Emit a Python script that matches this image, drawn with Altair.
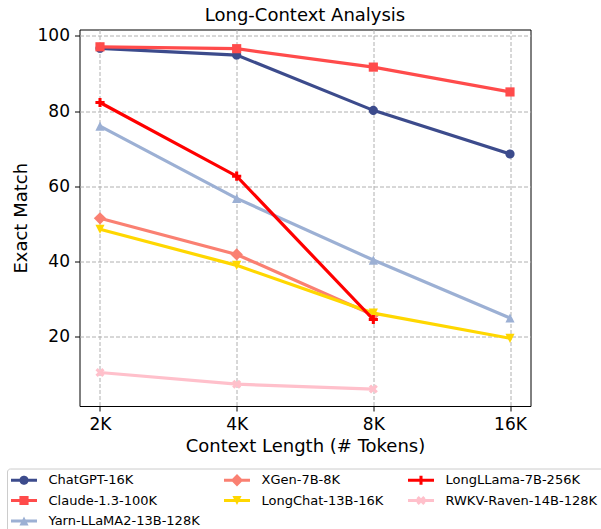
import math
import altair as alt
import pandas as pd

# ---------------- data ----------------
models = ["ChatGPT-16K", "Claude-1.3-100K", "Yarn-LLaMA2-13B-128K", "XGen-7B-8K",
          "LongChat-13B-16K", "LongLLama-7B-256K", "RWKV-Raven-14B-128K"]
contexts = ["2K", "4K", "8K", "16K"]
chatgpt = [96.7, 94.9, 80.2, 68.6]
claude = [97.1, 96.6, 91.7, 85.1]
yarn = [76.0, 56.8, 40.4, 25.0]
xgen = [51.5, 41.9, 25.8]
longchat = [48.6, 39.0, 26.3, 19.6]
longllama = [82.3, 62.7, 24.6]
rwkv = [10.5, 7.4, 6.1]
series = [chatgpt, claude, yarn, xgen, longchat, longllama, rwkv]

colors = ["#3C4B8C", "#FF4B4B", "#9CB0D4", "#FA8072", "#FFD700", "#FF0000", "#FFC0CB"]
markers = ["circle", "square", "tri_up", "diamond", "tri_down", "plus", "xcross"]

rows = []
for m, vals in zip(models, series):
    for c, v in zip(contexts, vals):
        rows.append({"model": m, "ctx": c, "value": v})
df = pd.DataFrame(rows)

FONT = "DejaVu Sans"


# ---------------- marker shapes (custom svg paths, unit = sqrt(size)/2) ----------------
def poly(pts):
    area = sum(pts[i][0] * pts[(i + 1) % len(pts)][1] - pts[(i + 1) % len(pts)][0] * pts[i][1]
               for i in range(len(pts)))
    if area < 0:
        pts = pts[::-1]
    return "M" + "L".join(f"{x:.3f},{y:.3f}" for x, y in pts) + "Z"


def plus_pts(a=1.0, w=1 / 3):
    return [(-w, -a), (w, -a), (w, -w), (a, -w), (a, w), (w, w), (w, a), (-w, a),
            (-w, w), (-a, w), (-a, -w), (-w, -w)]


def marker_path(kind):
    if kind == "circle":
        return poly([(math.cos(2 * math.pi * k / 40), math.sin(2 * math.pi * k / 40)) for k in range(40)])
    if kind == "square":
        return poly([(-1, -1), (1, -1), (1, 1), (-1, 1)])
    if kind == "tri_up":
        return poly([(0, -1), (1, 1), (-1, 1)])
    if kind == "tri_down":
        return poly([(0, 1), (-1, -1), (1, -1)])
    if kind == "diamond":
        d = 1.35
        return poly([(0, -d), (d, 0), (0, d), (-d, 0)])
    if kind == "plus":
        return poly(plus_pts())
    if kind == "xcross":
        r = 1 / math.sqrt(2)
        return poly([((x - y) * r * 1.05, (x + y) * r * 1.05) for x, y in plus_pts()])
    return ""


MSIZE = 84
unit = math.sqrt(MSIZE) / 2
half_len = 13 / unit
half_w = 1.6 / unit
line_path = poly([(-half_len, -half_w), (half_len, -half_w), (half_len, half_w), (-half_len, half_w)])

marker_of = {m: marker_path(k) for m, k in zip(models, markers)}
# matplotlib fills legend columns top-to-bottom; reorder for Vega's row-wise layout
legend_order = [models[i] for i in [0, 3, 5, 1, 4, 6, 2]]
color_of = dict(zip(models, colors))
leg_colors = [color_of[m] for m in legend_order]
leg_shapes = [line_path + " " + marker_of[m] for m in legend_order]

# ---------------- encodings ----------------
x = alt.X("ctx:O", scale=alt.Scale(type="point", domain=contexts, padding=0.15),
          axis=alt.Axis(title="Context Length (# Tokens)", labelAngle=0, grid=True,
                        titlePadding=5.5))
y = alt.Y("value:Q", scale=alt.Scale(domain=[1.6, 101.7], nice=False, zero=False),
          axis=alt.Axis(title="Exact Match", values=[20, 40, 60, 80, 100], grid=True,
                        titlePadding=6.5))

leg_kwargs = dict(title=None, orient="none", legendX=-72.5, legendY=439, columns=3,
                  direction="horizontal",
                  symbolSize=MSIZE, symbolOffset=5.5, labelOffset=18, labelFont=FONT,
                  labelFontSize=13, labelColor="black", labelLimit=400, columnPadding=23,
                  rowPadding=6.5, padding=5, strokeColor="#cccccc", fillColor="white",
                  cornerRadius=3, symbolOpacity=1, symbolStrokeWidth=0)

color_leg = alt.Color("model:N", scale=alt.Scale(domain=legend_order, range=leg_colors),
                      legend=alt.Legend(**leg_kwargs))
shape_leg = alt.Shape("model:N", scale=alt.Scale(domain=legend_order, range=leg_shapes),
                      legend=alt.Legend(**leg_kwargs))

base = alt.Chart(df)
# invisible layer that only carries the legend (line + marker symbols)
layers = [base.mark_point(filled=True, opacity=0, size=MSIZE).encode(
    x=x, y=y, color=color_leg, shape=shape_leg)]
for m in models:
    sub = base.transform_filter(alt.datum.model == m)
    layers.append(sub.mark_line(strokeWidth=3.2, color=color_of[m]).encode(x=x, y=y))
    layers.append(sub.mark_point(shape=marker_of[m], filled=True, size=MSIZE, opacity=1,
                                 strokeWidth=0, color=color_of[m]).encode(x=x, y=y))

chart = alt.layer(*layers).properties(
    width=451, height=376.5,
    title=alt.TitleParams("Long-Context Analysis", font=FONT, fontSize=18, fontWeight="normal",
                          color="black", anchor="middle", frame="group", offset=-12,
                          baseline="alphabetic"),
    autosize=alt.AutoSizeParams(type="none"),
    padding={"left": 79.5, "top": 29.5, "right": 70.5, "bottom": 123},
).configure(background="white").configure_view(stroke="black", strokeWidth=1).configure_axis(
    domain=False, tickColor="black", tickSize=5, tickWidth=1, labelPadding=5,
    labelFont=FONT, labelFontSize=17, labelColor="black",
    titleFont=FONT, titleFontSize=18, titleFontWeight="normal", titleColor="black",
    gridColor="#b0b0b0", gridDash=[4, 2], gridWidth=1,
)

chart.save("out.html", embed_options={"renderer": "svg", "actions": False})
